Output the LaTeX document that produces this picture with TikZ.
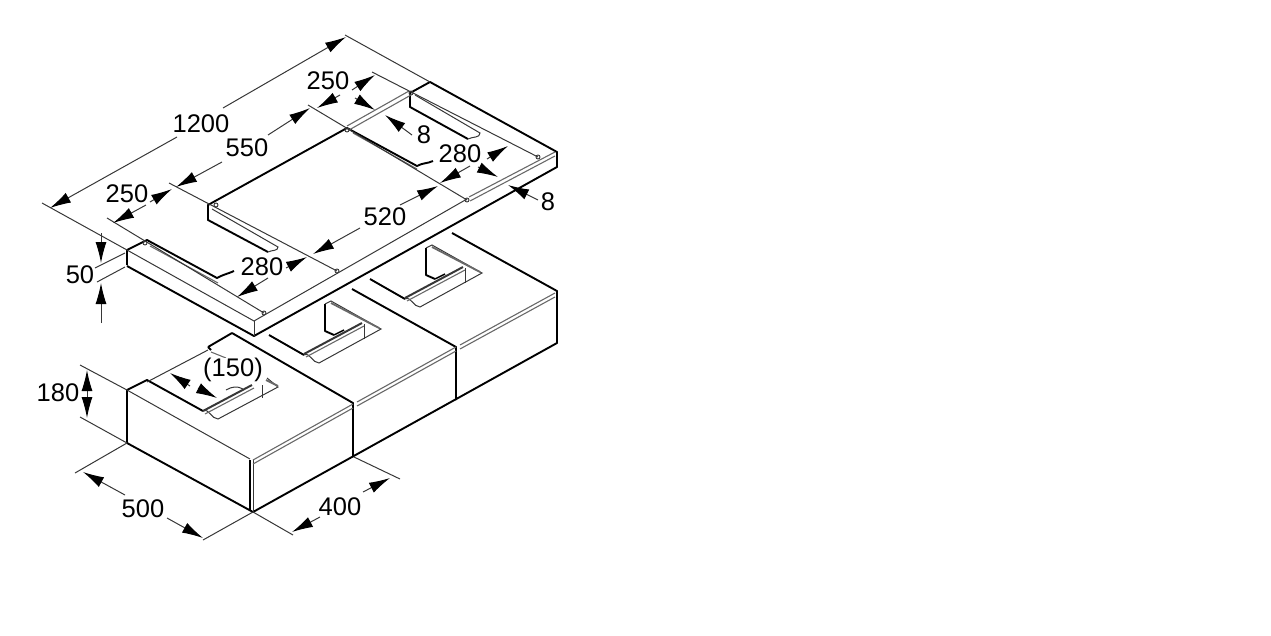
\documentclass[tikz,border=0pt]{standalone}
\usepackage{fontspec}
\setmainfont{Liberation Sans}
\usetikzlibrary{arrows.meta}
\definecolor{dimgrey}{RGB}{55, 55, 55}
\definecolor{midgrey}{RGB}{105, 105, 105}
\begin{document}
\begin{tikzpicture}[
    x=1pt, y=-1pt,
    edge/.style={line width=1.9pt, black, line join=round},
    thin line/.style={line width=1pt, dimgrey},
    grey line/.style={line width=1.1pt, midgrey},
    dim/.style={line width=1pt, dimgrey},
    arrow/.style={dim, -{Latex[length=21pt, width=11pt, black]}},
    dimtext/.style={inner sep=0pt, font=\fontsize{25.5}{26}\selectfont, text=black},
    hole/.style={line width=0.9pt, dimgrey}
]
    \useasboundingbox (0,0) rectangle (1271,635);

    % Plate
    \draw[edge] (127,265) -- (127,250) -- (147,240) -- (217,278) to[out=30, in=205] (234,271);
    \draw[edge] (127,266) -- (254,336) -- (557,167) -- (557,152) -- (430,82) -- (410,93) -- (410,107) -- (468,139);
    \draw[edge] (268,252) -- (208,220) -- (208,205) -- (347,128) -- (417,166) to[out=30, in=205] (433,161);
    \draw[thin line] (468,139) to[out=30, in=-90] (480,133) -- (415,95);
    \draw[thin line] (268,252) to[out=30, in=-90] (278,247) -- (212,209);
    \draw[grey line] (150,246) -- (218,283);
    \draw[grey line] (353,133) -- (417,169);
    \draw[grey line] (347,126) -- (409,91) (349,130) -- (411,95);
    \draw[thin line] (254,321) -- (254,336);
    \draw[thin line] (127,250) -- (254,321) -- (467,199);
    \draw[grey line] (469,197) -- (555,152) (470,201) -- (555,156);

    % Screw holes
    \foreach \hx/\hy in {145/243, 216/205, 347/130, 411/93, 264/313, 337/271, 467/200, 538/157}
        \draw[hole] (\hx,\hy) circle (2pt);

    % Extension lines on the plate
    \draw[thin line] (42,203) -- (127,250);
    \draw[thin line] (345,35) -- (430,82);
    \draw[thin line] (107,218) -- (264,313);
    \draw[thin line] (169,183) -- (337,271);
    \draw[thin line] (308,105) -- (467,200);
    \draw[thin line] (372,72) -- (538,157);
    \draw[thin line] (95,268) -- (125,253) (97,282) -- (125,267);

    % Plate dimensions
    \node[dimtext] (len) at (201,124) {1200};
    \draw[arrow] (177,137) -- (50,208);
    \draw[arrow] (223,108) -- (346,37);
    \node[dimtext] (leftgap) at (127,194) {250};
    \draw[arrow] (146,205) -- (113,223);
    \draw[arrow] (150,202) -- (172,189);
    \node[dimtext] (mid) at (247,148) {550};
    \draw[arrow] (222,162) -- (176,187);
    \draw[arrow] (268,135) -- (310,108);
    \node[dimtext] (rightgap) at (328,81) {250};
    \draw[arrow] (340,95) -- (317,108);
    \draw[arrow] (352,90) -- (375,75);
    \node[dimtext] (slotup) at (424,135) {8};
    \draw[arrow] (355,98) -- (375,110);
    \draw[arrow] (412,135) -- (385,115);
    \node[dimtext] (rightlen) at (460,154) {280};
    \draw[arrow] (487,159) -- (508,146);
    \draw[arrow] (470,166) -- (440,183);
    \node[dimtext] (depth) at (385,217) {520};
    \draw[arrow] (400,205) -- (438,186);
    \draw[arrow] (360,228) -- (313,254);
    \node[dimtext] (leftlen) at (262,267) {280};
    \draw[arrow] (286,268) -- (307,257);
    \draw[arrow] (268,278) -- (237,297);
    \node[dimtext] (sloteight) at (548,202) {8};
    \draw[arrow] (478,167) -- (498,177);
    \draw[arrow] (538,200) -- (508,185);
    \node[dimtext] (thick) at (80,275) {50};
    \draw[arrow] (101,233) -- (101,263);
    \draw[arrow] (101,323) -- (101,283);

    % Blocks
    \draw[edge] (127,443) -- (127,390) -- (147,380) -- (203,411);
    \draw[edge] (127,443) -- (253,512) -- (557,343) -- (557,291) -- (452,233);
    \draw[edge] (232,333) -- (353,403) -- (353,457);
    \draw[edge] (352,289) -- (456,347) -- (456,400);
    \draw[edge] (250,460) -- (250,510);
    \draw[thin line] (253,460) -- (253,512);
    \draw[thin line] (127,390) -- (250,459);
    \draw[grey line] (253,460) -- (353,404) (253,464) -- (353,408);
    \draw[grey line] (357,402) -- (456,347) (357,406) -- (456,351);
    \draw[grey line] (460,345) -- (555,293) (460,349) -- (555,297);

    % Block cut-outs
    \foreach \sx/\sy in {0/0, -101/56} {
        \begin{scope}[shift={(\sx,\sy)}]
            \draw[edge] (370,279) -- (405,299);
            \draw[edge] (435,279) -- (426,275) -- (426,248);
            \draw[thin line] (405,299) to[out=30, in=180] (420,307) -- (482,273) -- (432,245) -- (426,248);
            \draw[line width=2pt, dimgrey] (405,298) -- (463,267);
            \draw[grey line] (407,301) -- (465,270);
            \draw[line width=1.8pt, midgrey] (432,247) -- (480,272);
            \draw[thin line] (465,268) -- (465,283);
            \draw[line width=1.4pt, black] (435,279) -- (445,274);
        \end{scope}
    }
    \draw[edge] (208,347) -- (232,333);
    \draw[edge] (208,347) -- (211,350);
    \draw[thin line] (147,382) -- (208,350);
    \draw[grey line] (211,352) -- (226,358);
    \draw[thin line] (203,411) to[out=30, in=180] (218,419) -- (278,387) -- (267,378);
    \draw[line width=2pt, dimgrey] (203,411) -- (252,385);
    \draw[grey line] (205,414) -- (254,388);
    \draw[line width=1.8pt, midgrey] (266,380) -- (278,386);
    \draw[thin line] (262,385) -- (262,398);
    \draw[thin line] (226,390) to[out=30, in=150] (243,389);

    % Block dimensions
    \node[dimtext, fill=white, inner sep=0.5pt] (notch) at (233,370) {(150)};
    \draw[arrow] (190,386) -- (170,373);
    \draw[arrow] (198,388) -- (217,398);
    \node[dimtext] (height) at (58,393) {180};
    \draw[thin line] (80,365) -- (127,390) (80,417) -- (127,443);
    \draw[arrow] (87,395) -- (87,370);
    \draw[arrow] (87,392) -- (87,418);
    \node[dimtext] (width) at (143,509) {500};
    \draw[thin line] (75,473) -- (127,443) (203,540) -- (253,512);
    \draw[arrow] (125,495) -- (83,472);
    \draw[arrow] (167,518) -- (203,538);
    \node[dimtext] (side) at (340,507) {400};
    \draw[thin line] (253,512) -- (293,535) (354,457) -- (400,479);
    \draw[arrow] (320,517) -- (292,532);
    \draw[arrow] (363,492) -- (390,478);
\end{tikzpicture}
\end{document}
